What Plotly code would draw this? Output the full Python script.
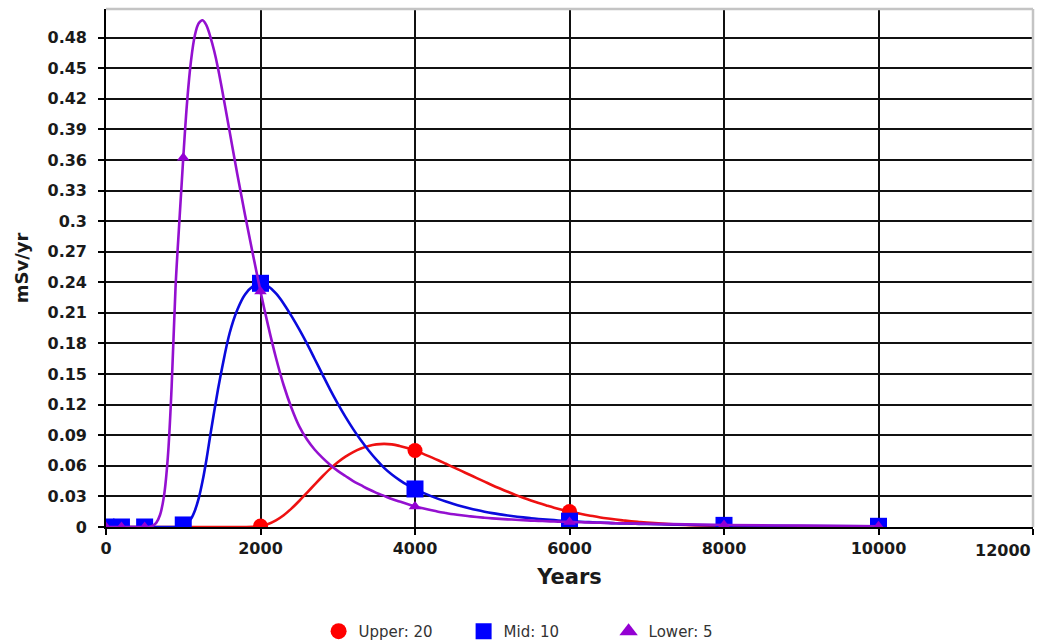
import plotly.graph_objects as go

# Sampling years for the dose curves
years = ([0, 100, 200, 300, 400, 500]
         + [550, 600, 650, 700, 750, 800, 850, 900, 950, 1000, 1050, 1100, 1150,
            1200, 1250, 1300, 1350, 1400, 1450, 1500]
         + [1600, 1700, 1800, 1900, 2000, 2100, 2200, 2300, 2400, 2500, 2600, 2700,
            2800, 2900, 3000, 3100, 3200, 3300, 3400, 3500, 3600, 3700, 3800, 3900,
            4000, 4100, 4200, 4300, 4400, 4500, 4600, 4700, 4800, 4900, 5000, 5100,
            5200, 5300, 5400, 5500, 5600, 5700, 5800, 5900, 6000, 6100, 6200, 6300,
            6400, 6500, 6600, 6700, 6800, 6900, 7000]
         + [7500, 8000, 9000, 10000])

# Upper: 20
upper = ([0, 0, 0, 0, 0, 0]
         + [0, 0, 0, 0, 0, 0, 0, 0, 0, 0, 0, 0, 0, 0, 0, 0, 0, 0, 0, 0]
         + [0, 0, 0, 0.0002, 0.001, 0.003, 0.0065, 0.0115, 0.018, 0.0255, 0.0335, 0.0415,
            0.0495, 0.057, 0.0635, 0.069, 0.0735, 0.077, 0.0795, 0.081, 0.0815, 0.081, 0.0795, 0.0775,
            0.075, 0.072, 0.0688, 0.0655, 0.062, 0.0585, 0.055, 0.0515, 0.048, 0.0445, 0.041, 0.0377,
            0.0345, 0.0315, 0.0287, 0.026, 0.0235, 0.0212, 0.019, 0.017, 0.0152, 0.0136, 0.0121, 0.0107,
            0.0094, 0.0083, 0.0073, 0.0064, 0.0056, 0.0049, 0.0043]
         + [0.002, 0.001, 0.0004, 0.0002])

# Mid: 10
mid = ([0, 0, 0, 0, 0, 0]
       + [0, 0, 0, 0, 0, 0, 0, 0, 0.001, 0.002, 0.004, 0.008, 0.016,
          0.028, 0.045, 0.066, 0.09, 0.113, 0.135, 0.155]
       + [0.19, 0.213, 0.228, 0.236, 0.239, 0.236, 0.229, 0.219, 0.207, 0.194, 0.18, 0.165,
          0.15, 0.135, 0.121, 0.108, 0.096, 0.085, 0.075, 0.066, 0.058, 0.0515, 0.046, 0.0412,
          0.0373, 0.0337, 0.0305, 0.0276, 0.025, 0.0226, 0.0204, 0.0184, 0.0166, 0.015, 0.0136, 0.0124,
          0.0113, 0.0103, 0.0094, 0.0086, 0.0079, 0.0073, 0.0067, 0.0062, 0.0057, 0.0053, 0.0049, 0.0046,
          0.0043, 0.004, 0.0037, 0.0035, 0.0033, 0.0031, 0.0029]
       + [0.0022, 0.0016, 0.001, 0.0007])

# Lower: 5
lower = ([0, 0, 0, 0, 0, 0]
         + [0, 0.001, 0.004, 0.012, 0.03, 0.068, 0.138, 0.235, 0.30, 0.362, 0.417, 0.457, 0.482,
            0.494, 0.497, 0.492, 0.481, 0.467, 0.45, 0.43]
         + [0.388, 0.346, 0.306, 0.268, 0.231, 0.197, 0.166, 0.139, 0.117, 0.099, 0.086, 0.076,
            0.068, 0.061, 0.055, 0.05, 0.045, 0.041, 0.037, 0.0335, 0.0305, 0.0275, 0.025, 0.0225,
            0.0202, 0.0183, 0.0166, 0.015, 0.0137, 0.0125, 0.0115, 0.0106, 0.0098, 0.0091, 0.0085, 0.008,
            0.0075, 0.0071, 0.0067, 0.0063, 0.006, 0.0057, 0.0054, 0.0051, 0.0049, 0.0047, 0.0045, 0.0043,
            0.0041, 0.0039, 0.0037, 0.0036, 0.0034, 0.0033, 0.0032]
         + [0.0026, 0.002, 0.0013, 0.0008])

# Years at which the model output points are marked
marker_years = [0, 200, 500, 1000, 2000, 4000, 6000, 8000, 10000]

x_tick_labels = ["0", "2000", "4000", "6000", "8000", "10000", "12000"]
y_tick_labels = ["0", "0.03", "0.06", "0.09", "0.12", "0.15", "0.18", "0.21", "0.24",
                 "0.27", "0.3", "0.33", "0.36", "0.39", "0.42", "0.45", "0.48"]

series = [
    ("Upper: 20", upper, "#FF0000", "#EE1111", "circle", 15),
    ("Mid: 10", mid, "#0000FF", "#0A0ADD", "square", 17),
    ("Lower: 5", lower, "#9400D3", "#9410D0", "triangle-up", 11),
]

TICK_FONT = dict(family="DejaVu Sans", size=16, color="#1a1a1a")

fig = go.Figure()
for name, values, mcolor, lcolor, symbol, msize in series:
    fig.add_trace(go.Scatter(
        x=years, y=values, mode="lines",
        line=dict(color=lcolor, width=2.6, shape="spline", smoothing=1),
        showlegend=False, hoverinfo="skip",
    ))
    lookup = dict(zip(years, values))
    fig.add_trace(go.Scatter(
        x=marker_years, y=[lookup[t] for t in marker_years], mode="markers",
        marker=dict(color=mcolor, symbol=symbol, size=msize, line=dict(width=0)),
        showlegend=False,
    ))

# Legend entries with larger symbols
for name, values, mcolor, lcolor, symbol, msize in series:
    fig.add_trace(go.Scatter(
        x=[None], y=[None], mode="markers", name=name,
        marker=dict(color=mcolor, symbol=symbol, size=16, line=dict(width=0)),
    ))

x_vals = [int(s) for s in x_tick_labels]
y_vals = [float(s) for s in y_tick_labels]

fig.update_xaxes(
    range=[0, 12000],
    tickvals=x_vals,
    ticktext=[s if s != "12000" else "" for s in x_tick_labels],
    ticks="outside", ticklen=6, tickwidth=1.5, tickcolor="#000",
    showgrid=True, gridcolor="#111", gridwidth=1.6,
    showline=True, linecolor="#000", linewidth=1.6,
    zeroline=False,
    tickfont=dict(TICK_FONT, weight="bold"),
    title=dict(text="<b>Years</b>", font=dict(family="DejaVu Sans", size=21, color="#1a1a1a"),
               standoff=12),
)
fig.update_yaxes(
    range=[0, 0.508],
    tickvals=y_vals, ticktext=y_tick_labels,
    ticks="outside", ticklen=6, tickwidth=1.5, tickcolor="#000",
    showgrid=True, gridcolor="#111", gridwidth=1.6,
    showline=True, linecolor="#000", linewidth=1.6,
    zeroline=False,
    tickfont=dict(TICK_FONT, weight="bold"),
    ticklabelstandoff=8,
    title=dict(text="<b>mSv/yr</b>", font=dict(family="DejaVu Sans", size=18, color="#1a1a1a"),
               standoff=14),
)

# Light frame on the top and right edges of the plotting area
frame = dict(type="line", xref="x domain", yref="y domain", layer="above",
             line=dict(color="#c4c4c4", width=2.5))
fig.add_shape(frame, x0=0, x1=1, y0=1, y1=1)
fig.add_shape(frame, x0=1, x1=1, y0=0, y1=1)

# Last x tick label kept inside the page, right-aligned to its tick
fig.add_annotation(x=12000, y=0, xref="x", yref="y", text="<b>12000</b>",
                   showarrow=False, xanchor="right", yanchor="top", yshift=-12,
                   font=TICK_FONT)

fig.update_layout(
    width=1043, height=643,
    margin=dict(l=106, r=10, t=9, b=116),
    paper_bgcolor="white", plot_bgcolor="white",
    font=dict(family="DejaVu Sans", color="#333"),
    legend=dict(orientation="h", xref="container", yref="container",
                x=0.514, xanchor="center", y=0.018, yanchor="middle",
                font=dict(family="DejaVu Sans", size=15, color="#333"),
                itemsizing="trace", entrywidth=100, entrywidthmode="pixels"),
)

fig.write_html("out.html")
